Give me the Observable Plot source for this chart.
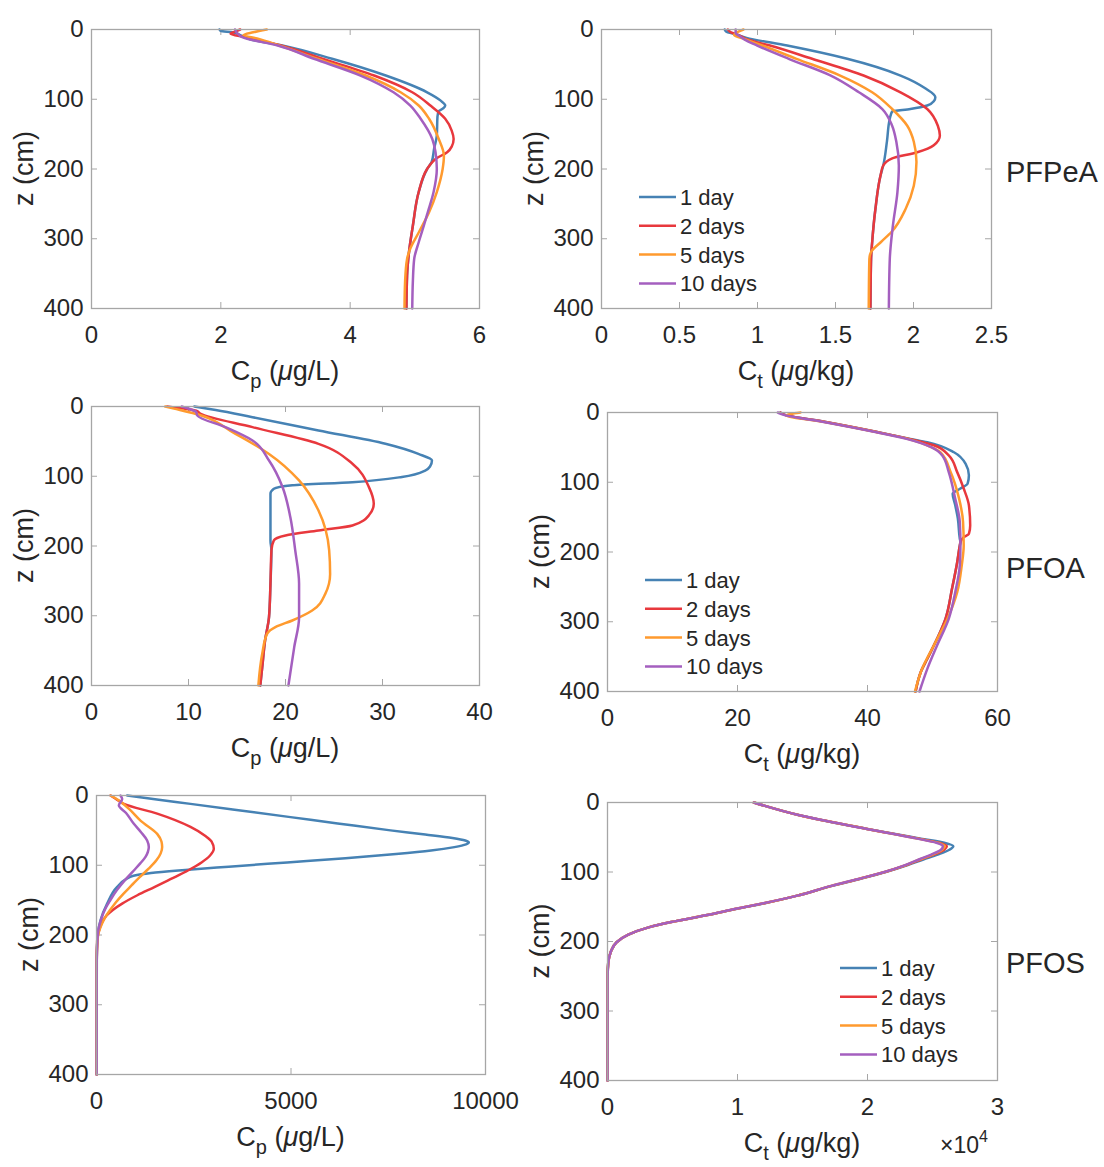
<!DOCTYPE html>
<html><head><meta charset="utf-8">
<script src="https://cdn.jsdelivr.net/npm/d3@7"></script>
<script src="https://cdn.jsdelivr.net/npm/@observablehq/plot@0.6"></script>
<style>
body{margin:0;background:#fff;}
#root{position:relative;width:1104px;height:1167px;overflow:hidden;background:#fff;}
#root > div{position:absolute;}
#overlay{position:absolute;left:0;top:0;pointer-events:none;}
</style></head><body><div id="root"></div>
<script>
// ---------- DATA: [z (cm), value] ----------
const seriesNames = ["1 day", "2 days", "5 days", "10 days"];
const depthTicks = [0, 100, 200, 300, 400];

// PFPeA, Cp (ug/L)
const pfpeaCp1 = [[0,1.98],[2,2.0],[4,2.18],[8,2.3],[14,2.45],[23,2.95],[42,3.72],[66,4.55],[90,5.19],[102,5.4],[109,5.47],[113,5.44],[117,5.37],[125,5.35],[152,5.34],[170,5.3],[190,5.26],[200,5.19],[233,5.06],[281,4.97],[319,4.91],[353,4.88],[400,4.87]];
const pfpeaCp2 = [[0,2.3],[3,2.22],[6,2.15],[11,2.38],[23,2.93],[42,3.57],[66,4.37],[90,4.96],[109,5.24],[128,5.47],[145,5.57],[157,5.6],[168,5.57],[176,5.5],[185,5.33],[190,5.27],[200,5.19],[233,5.06],[281,4.97],[319,4.91],[353,4.88],[400,4.87]];
const pfpeaCp5 = [[0,2.71],[4,2.5],[8,2.35],[13,2.56],[23,2.9],[42,3.49],[66,4.24],[90,4.78],[109,5.06],[128,5.22],[157,5.37],[181,5.45],[200,5.43],[233,5.34],[262,5.22],[291,5.06],[314,4.93],[329,4.88],[360,4.85],[400,4.84]];
const pfpeaCp10 = [[0,2.22],[5,2.25],[11,2.33],[23,2.88],[42,3.44],[66,4.16],[90,4.67],[109,4.93],[128,5.09],[157,5.27],[176,5.32],[200,5.34],[233,5.29],[262,5.2],[281,5.14],[305,5.06],[329,4.99],[360,4.97],[400,4.96]];

// PFPeA, Ct (ug/kg)
const pfpeaCt1 = [[0,0.79],[3,0.8],[6,0.85],[12,0.93],[23,1.19],[42,1.575],[66,1.917],[85,2.08],[97,2.14],[103,2.13],[109,2.088],[114,1.98],[117.6,1.863],[128,1.848],[160,1.83],[195,1.806],[209,1.789],[257,1.756],[305,1.735],[329,1.728],[400,1.724]];
const pfpeaCt2 = [[0,0.81],[4,0.83],[8,0.88],[14,0.93],[23,1.08],[42,1.35],[66,1.68],[90,1.917],[114,2.088],[138,2.156],[152,2.169],[166,2.13],[176,2.024],[185,1.86],[195,1.806],[209,1.789],[257,1.756],[305,1.735],[329,1.728],[400,1.724]];
const pfpeaCt5 = [[0,0.91],[4,0.87],[8,0.85],[14,0.92],[23,1.03],[42,1.25],[66,1.53],[90,1.735],[114,1.863],[138,1.96],[161,2.002],[190,2.019],[224,2.002],[257,1.95],[290,1.86],[305,1.79],[319,1.728],[329,1.717],[400,1.713]];
const pfpeaCt10 = [[0,0.86],[5,0.86],[10,0.89],[16,0.93],[23,0.998],[42,1.2],[66,1.47],[90,1.65],[114,1.8],[138,1.863],[161,1.89],[195,1.906],[233,1.897],[281,1.868],[329,1.848],[400,1.842]];

// PFOA, Cp (ug/L)
const pfoaCp1 = [[0,10.6],[5,12.8],[15.3,16.6],[34.4,23.4],[53.5,30.3],[68,33.7],[77.4,35.1],[86,34.9],[91.8,34.4],[101,32.0],[108.5,26.9],[113,20.7],[118,18.8],[125,18.45],[192,18.45],[206,18.55],[254,18.45],[302,18.3],[335,17.9],[374,17.6],[400,17.4]];
const pfoaCp2 = [[0,7.8],[3,9.5],[6,10.8],[10,11.2],[29.6,16.6],[53.5,23.4],[82,26.9],[115.6,28.6],[139.5,29.1],[156,28.6],[170.6,26.9],[177.8,23.4],[185,20.0],[192,18.8],[206,18.55],[254,18.45],[302,18.3],[335,17.9],[374,17.6],[400,17.4]];
const pfoaCp5 = [[0,7.6],[3,8.5],[10.5,10.7],[39,14.8],[68,18.3],[106,21.4],[149,23.4],[206,24.5],[240,24.6],[268.6,24.1],[292.5,22.75],[306.8,20.7],[316,19.0],[326,18.1],[354.6,17.6],[400,17.2]];
const pfoaCp10 = [[0,9.3],[4,10.2],[8,10.8],[12.9,10.9],[29.6,13.8],[48.7,16.6],[77.4,18.3],[115.7,19.7],[158.7,20.5],[206,21.0],[254,21.4],[302,21.4],[345,20.9],[400,20.3]];

// PFOA, Ct (ug/kg)
const pfoaCt1 = [[0,26.6],[3,27.2],[14,33.8],[28,41.5],[37.8,46.6],[42.5,49.2],[57,53.3],[73.6,55.1],[90,55.6],[102,55.4],[109,54.3],[116.6,53.1],[133,53.5],[152,53.9],[181,54.2],[186,54.3],[190.7,54.2],[214.6,53.8],[252.8,53.0],[295.8,52.0],[324.5,50.7],[353,49.2],[372,48.2],[400,47.4]];
const pfoaCt2 = [[0,26.6],[3,27.2],[14,33.8],[28,41.5],[37.8,46.4],[47,50.2],[61.6,52.5],[85.5,53.8],[109,54.8],[133,55.6],[162,55.8],[174,55.6],[178.7,54.8],[186,54.3],[190.7,54.2],[214.6,53.8],[252.8,53.0],[295.8,52.0],[324.5,50.7],[353,49.2],[372,48.2],[400,47.4]];
const pfoaCt5 = [[0,29.7],[2,28.2],[4,27.5],[14,33.6],[28,41.3],[37.8,46.2],[49.7,49.8],[57,51.2],[85.5,52.8],[123.8,54.1],[157,54.7],[190.7,54.8],[219,54.5],[257.6,53.8],[295.8,52.3],[334,50.2],[367.5,48.4],[400,47.3]];
const pfoaCt10 = [[0,26.2],[3,27.0],[14,33.5],[28,41.2],[37.8,46.0],[49.7,49.8],[61.6,51.5],[85.5,52.5],[123.8,53.5],[157,54.2],[190.7,54.3],[219,54.2],[257.6,53.5],[295.8,52.5],[334,50.7],[367.5,49.2],[400,48.0]];

// PFOS, Cp (ug/L)
const pfosCp1 = [[0,788],[6,1600],[12,2416],[20,3500],[31,4987],[40,6200],[50,7558],[56,8450],[61,9150],[64.5,9480],[67,9571],[70,9500],[74,9200],[79,8600],[84,7700],[90,6400],[96,4900],[102,3400],[107,2200],[111,1400],[115,950],[120,760],[131,531],[155,274],[179,103],[198,34],[232,8],[300,5],[400,5]];
const pfosCp2 = [[0,360],[5,500],[12,703],[26,1560],[45,2416],[58,2800],[66,2960],[76.5,3016],[86,2920],[96,2700],[107.5,2350],[120,1900],[131,1500],[143,1050],[155,660],[164,420],[172,260],[181,150],[189,90],[208,17],[240,5],[400,5]];
const pfosCp5 = [[0,360],[7,574],[20,850],[36,1131],[55,1560],[66,1670],[74,1688],[83,1650],[93,1540],[105,1340],[117,1110],[129,900],[141,690],[153,500],[165,340],[175,220],[184,140],[203,34],[240,5],[400,5]];
const pfosCp10 = [[0,617],[5,660],[14,574],[25,760],[40.6,960],[53,1150],[64.5,1302],[74,1345],[81,1320],[88,1260],[97,1130],[107.5,960],[122,720],[136,520],[150.5,350],[162,230],[174,140],[186,75],[198,34],[240,5],[400,5]];

// PFOS, Ct (ug/kg)
const pfosCt1 = [[0,11256],[18.7,14846],[38,19974],[52,24100],[58,25900],[63,26600],[68,26300],[75,25400],[82,24300],[90,23100],[100,21400],[110,19400],[120,17300],[134,14600],[145,12100],[153,9950],[162,7700],[172,4900],[180,3100],[190,1600],[201,700],[215,250],[230,60],[250,10],[400,5]];
const pfosCt2 = [[0,11256],[18.7,14846],[38,19974],[52,23950],[58,25500],[63,26100],[68,25900],[75,25100],[82,24100],[90,23000],[100,21350],[110,19350],[120,17250],[134,14600],[145,12050],[153,9920],[162,7680],[172,4900],[180,3100],[190,1600],[201,700],[215,250],[230,60],[250,10],[400,5]];
const pfosCt5 = [[0,11256],[18.7,14846],[38,19974],[52,23880],[58,25400],[63,25950],[68,25750],[75,25000],[82,24000],[90,22950],[100,21320],[110,19320],[120,17220],[134,14600],[145,12020],[153,9900],[162,7660],[172,4900],[180,3100],[190,1600],[201,700],[215,250],[230,60],[250,10],[400,5]];
const pfosCt10 = [[0,11256],[18.7,14846],[38,19974],[52,23820],[58,25300],[63,25800],[68,25650],[75,24900],[82,23950],[90,22900],[100,21300],[110,19300],[120,17200],[134,14600],[145,12000],[153,9880],[162,7650],[172,4900],[180,3100],[190,1600],[201,700],[215,250],[230,60],[250,10],[400,5]];

const ticksPfpeaCp = [0, 2, 4, 6];
const ticksPfpeaCt = [0, 0.5, 1, 1.5, 2, 2.5];
const ticksPfoaCp = [0, 10, 20, 30, 40];
const ticksPfoaCt = [0, 20, 40, 60];
const ticksPfosCp = [0, 5000, 10000];
const ticksPfosCt = [0, 10000, 20000, 30000];

// ---------- STYLE / LAYOUT ----------
const colors = ["#4682b4", "#e8383d", "#ff9a2e", "#a45fbf"];
const FONT = "'Liberation Sans', Arial, Helvetica, sans-serif";
const TEXT = "#262626";
const GRID = "#a6a6a6";

const panels = [
  {series:[pfpeaCp1,pfpeaCp2,pfpeaCp5,pfpeaCp10], ticks:ticksPfpeaCp, f:{left:91,top:29,w:388,h:279}, sub:"p", unit:"g/L"},
  {series:[pfpeaCt1,pfpeaCt2,pfpeaCt5,pfpeaCt10], ticks:ticksPfpeaCt, f:{left:601,top:29,w:390,h:279}, sub:"t", unit:"g/kg", legend:[38,168], name:"PFPeA", nameY:182},
  {series:[pfoaCp1,pfoaCp2,pfoaCp5,pfoaCp10], ticks:ticksPfoaCp, f:{left:91,top:406,w:388,h:279}, sub:"p", unit:"g/L"},
  {series:[pfoaCt1,pfoaCt2,pfoaCt5,pfoaCt10], ticks:ticksPfoaCt, f:{left:607,top:412,w:390,h:279}, sub:"t", unit:"g/kg", legend:[38,168], name:"PFOA", nameY:578},
  {series:[pfosCp1,pfosCp2,pfosCp5,pfosCp10], ticks:ticksPfosCp, f:{left:96,top:795,w:389,h:279}, sub:"p", unit:"g/L"},
  {series:[pfosCt1,pfosCt2,pfosCt5,pfosCt10], ticks:ticksPfosCt, f:{left:607,top:802,w:390,h:278}, sub:"t", unit:"g/kg", legend:[233,166], name:"PFOS", nameY:973, scale:1e4}
];

const root = document.getElementById("root");
const mL = 100, mR = 20, mT = 15, mB = 90;

panels.forEach(p => {
  const f = p.f;
  const data = p.series.flatMap((s, i) => s.map(([z, v]) => ({z, v, s: seriesNames[i]})));
  const xd = [p.ticks[0], p.ticks[p.ticks.length - 1]];
  const inner = p.ticks.slice(1, -1);
  const innerY = depthTicks.slice(1, -1);
  const fmt = p.scale ? (d => String(d / p.scale)) : (d => String(d));
  const chart = Plot.plot({
    width: f.w + mL + mR, height: f.h + mT + mB,
    marginLeft: mL, marginRight: mR, marginTop: mT, marginBottom: mB,
    style: {fontFamily: FONT, fontSize: "24px", color: TEXT, background: "transparent", overflow: "visible"},
    x: {domain: xd},
    y: {domain: [0, 400], reverse: true},
    color: {domain: seriesNames, range: colors},
    marks: [
      Plot.tickX(inner, {x: d => d, insetTop: f.h - 6, stroke: GRID}),
      Plot.tickX(inner, {x: d => d, insetBottom: f.h - 6, stroke: GRID}),
      Plot.tickY(innerY, {y: d => d, insetRight: f.w - 6, stroke: GRID}),
      Plot.tickY(innerY, {y: d => d, insetLeft: f.w - 6, stroke: GRID}),
      Plot.line(data, {x: "v", y: "z", z: "s", stroke: "s", curve: "monotone-y", strokeWidth: 2.5}),
      Plot.frame({stroke: GRID, strokeWidth: 1.3}),
      Plot.axisX({ticks: p.ticks, tickFormat: fmt, tickSize: 0, tickPadding: 17, label: null, fontSize: 24}),
      Plot.axisY({ticks: depthTicks, tickFormat: d => String(d), tickSize: 0, tickPadding: 8, label: null, fontSize: 24})
    ]
  });
  const wrap = document.createElement("div");
  wrap.style.left = (f.left - mL) + "px";
  wrap.style.top = (f.top - mT) + "px";
  wrap.appendChild(chart);
  root.appendChild(wrap);

  if (p.legend) {
    const svg = d3.select(chart);
    const g = svg.append("g").attr("transform", `translate(${mL + p.legend[0]},${mT + p.legend[1]})`)
      .attr("font-family", FONT).attr("font-size", 22).attr("fill", TEXT).attr("text-anchor", "start");
    seriesNames.forEach((n, i) => {
      const y = i * 28.8;
      g.append("line").attr("x1", 0).attr("x2", 37).attr("y1", y).attr("y2", y)
        .attr("stroke", colors[i]).attr("stroke-width", 2.5);
      g.append("text").attr("x", 41).attr("y", y).attr("dy", "0.36em").attr("text-anchor", "start").text(n);
    });
  }
});

// overlay for axis titles and compound names
const ov = d3.select(root).append("svg").attr("id", "overlay").attr("width", 1104).attr("height", 1167)
  .attr("font-family", FONT).attr("fill", TEXT);
panels.forEach(p => {
  const f = p.f;
  const cx = f.left + f.w / 2, by = f.top + f.h + 72;
  const t = ov.append("text").attr("x", cx).attr("y", by).attr("text-anchor", "middle").attr("font-size", 27);
  t.append("tspan").text("C");
  t.append("tspan").attr("font-size", 20).attr("dy", 8).text(p.sub);
  t.append("tspan").attr("dy", -8).text(" (");
  t.append("tspan").attr("font-style", "italic").text("μ");
  t.append("tspan").text(p.unit + ")");
  ov.append("text").attr("transform", `translate(${f.left - 68},${f.top + f.h / 2}) rotate(-90)`)
    .attr("text-anchor", "middle").attr("dy", "0.36em").attr("font-size", 27).text("z (cm)");
  if (p.name) {
    ov.append("text").attr("x", 1006).attr("y", p.nameY).attr("font-size", 29).text(p.name);
  }
  if (p.scale) {
    const e = ov.append("text").attr("x", 940).attr("y", f.top + f.h + 73).attr("font-size", 23);
    e.append("tspan").text("×10");
    e.append("tspan").attr("font-size", 16).attr("dy", -11).text("4");
  }
});
</script></body></html>
